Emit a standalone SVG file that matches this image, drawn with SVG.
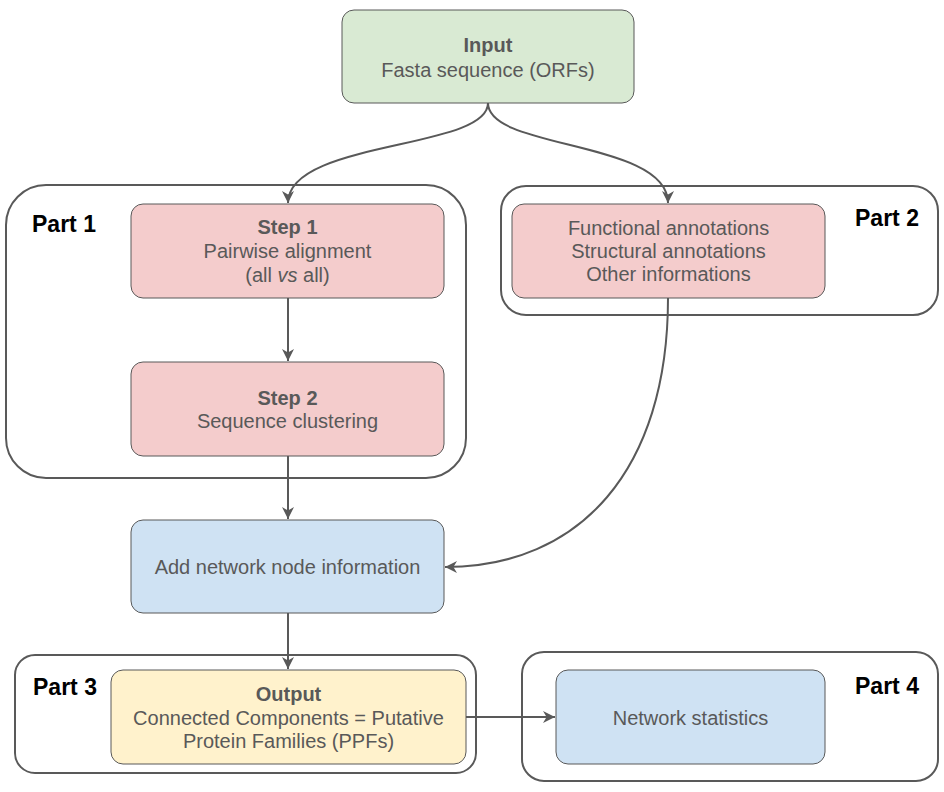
<svg xmlns="http://www.w3.org/2000/svg" width="944" height="792" viewBox="0 0 944 792">
<defs>
<style>
.cont{fill:none;stroke:#595959;stroke-width:2}
.box{stroke:#595959;stroke-width:1}
.t{font-family:"Liberation Sans",Arial,sans-serif;font-size:20px;fill:#595959;text-anchor:middle}
.b{font-weight:bold}
.lbl{font-family:"Liberation Sans",Arial,sans-serif;font-size:23px;font-weight:bold;fill:#000}
.con{fill:none;stroke:#595959;stroke-width:2}
</style>
<marker id="ah" markerWidth="12" markerHeight="12" refX="10" refY="5" orient="auto" markerUnits="userSpaceOnUse" viewBox="0 0 10 10">
<path d="M0,0 L10,5 L0,10 L3,5 z" fill="#595959"/>
</marker>
</defs>
<rect width="944" height="792" fill="#fff"/>
<g id="part1"><rect class="cont" x="6" y="185" width="460" height="293" rx="40"/><text class="lbl" x="32" y="232">Part 1</text></g>
<g id="part2"><rect class="cont" x="501" y="186" width="437" height="129" rx="25"/><text class="lbl" x="855" y="226">Part 2</text></g>
<g id="part3"><rect class="cont" x="15" y="655" width="461" height="118" rx="20"/><text class="lbl" x="33" y="695">Part 3</text></g>
<g id="part4"><rect class="cont" x="522" y="652" width="416" height="129" rx="22"/><text class="lbl" x="855" y="694">Part 4</text></g>
<g id="input"><rect class="box" x="342" y="10" width="292" height="93" rx="12" fill="#d9ead3"/><text class="t b" x="488" y="52">Input</text><text class="t" x="488" y="77">Fasta sequence (ORFs)</text></g>
<g id="step1"><rect class="box" x="131" y="204" width="313" height="94" rx="12" fill="#f4cccc"/><text class="t b" x="287.5" y="234">Step 1</text><text class="t" x="287.5" y="258">Pairwise alignment</text><text class="t" x="287.5" y="282">(all <tspan font-style="italic">vs</tspan> all)</text></g>
<g id="step2"><rect class="box" x="131" y="362" width="313" height="94" rx="12" fill="#f4cccc"/><text class="t b" x="287.5" y="405">Step 2</text><text class="t" x="287.5" y="428">Sequence clustering</text></g>
<g id="annot"><rect class="box" x="512" y="204" width="313" height="94" rx="12" fill="#f4cccc"/><text class="t" x="668.5" y="235">Functional annotations</text><text class="t" x="668.5" y="258">Structural annotations</text><text class="t" x="668.5" y="281">Other informations</text></g>
<g id="addnode"><rect class="box" x="131" y="520" width="313" height="93" rx="12" fill="#cfe2f3"/><text class="t" x="287.5" y="574">Add network node information</text></g>
<g id="output"><rect class="box" x="111" y="670" width="355" height="94" rx="12" fill="#fff2cc"/><text class="t b" x="288.5" y="701">Output</text><text class="t" x="288.5" y="725">Connected Components = Putative</text><text class="t" x="288.5" y="748">Protein Families (PPFs)</text></g>
<g id="netstats"><rect class="box" x="556" y="670" width="269" height="94" rx="12" fill="#cfe2f3"/><text class="t" x="690.5" y="725">Network statistics</text></g>
<g id="connectors">
<path class="con" d="M488,103 C488,150 288,140 288,203" marker-end="url(#ah)"/>
<path class="con" d="M488,103 C488,150 668,140 668,203" marker-end="url(#ah)"/>
<path class="con" d="M288,298 L288,361" marker-end="url(#ah)"/>
<path class="con" d="M288,456 L288,519" marker-end="url(#ah)"/>
<path class="con" d="M668,298 C668,470 580,567 445,567" marker-end="url(#ah)"/>
<path class="con" d="M288,613 L288,669" marker-end="url(#ah)"/>
<path class="con" d="M466,717 L555,717" marker-end="url(#ah)"/>
</g>
</svg>
